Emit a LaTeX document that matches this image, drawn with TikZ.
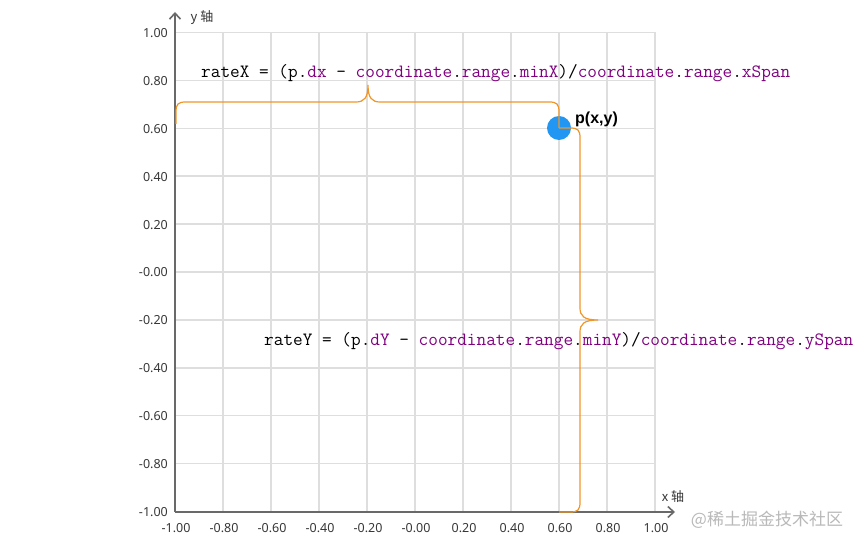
\documentclass[tikz,border=0pt]{standalone}
\usepackage{fontspec}
\setmainfont{Noto Sans}
\newfontfamily\cjkfont{Noto Sans CJK SC}
\newfontfamily\lblfont{Liberation Sans}
\usetikzlibrary{arrows.meta}
\definecolor{gridc}{RGB}{222,222,222}
\definecolor{axisc}{RGB}{105,105,105}
\definecolor{tickc}{RGB}{55,55,55}
\definecolor{pblue}{RGB}{33,150,243}
\definecolor{bracec}{RGB}{240,150,40}
\definecolor{codep}{RGB}{128,0,128}
\definecolor{wmc}{RGB}{185,185,185}
\newcommand\pu[1]{\textcolor{codep}{#1}}
\tikzset{
  gridline/.style={draw=gridc, line width=1.4pt},
  axisline/.style={draw=axisc, line width=1.8pt, -{Straight Barb[length=6pt,width=11pt,line width=1.6pt]}},
  xtick/.style={font=\fontsize{12.5}{14}\selectfont, text=tickc, inner sep=0pt},
  ytick/.style={font=\fontsize{12.5}{14}\selectfont, text=tickc, inner sep=0pt, anchor=east},
  axlabel/.style={font=\cjkfont\fontsize{13}{15}\selectfont, text=tickc, inner sep=0pt},
  code/.style={font=\ttfamily\addfontfeature{FakeBold=0.6}\fontsize{18.75}{20}\selectfont, inner sep=0pt, anchor=west},
  bracel/.style={draw=bracec, line width=1.2pt},
}
\begin{document}
\begin{tikzpicture}[x=1pt,y=-1pt]
\useasboundingbox[fill=white] (0,0) rectangle (865,548);
% grid
\foreach \k in {1,...,10} \draw[gridline] ({175+48*\k},32.5) -- ({175+48*\k},511.5);
\foreach \k in {0,...,9} \draw[gridline] (175,{32.5+47.9*\k}) -- (655,{32.5+47.9*\k});
% axes
\coordinate (o) at (175,512);
\coordinate (ytop) at (175,12);
\coordinate (xend) at (675,512);
\draw[axisline] (o) -- (ytop);
\draw[axisline] (o) -- (xend);
\node[axlabel] (ylab) at (202,18) {y 轴};
\node[axlabel] (xlab) at (673,497) {x 轴};
% tick labels
\foreach \k/\t in {0/-1.00,1/-0.80,2/-0.60,3/-0.40,4/-0.20,5/-0.00,6/0.20,7/0.40,8/0.60,9/0.80,10/1.00}
  \node[xtick] (xt\k) at ({176+48*\k},528) {\t};
\foreach \k/\t in {0/1.00,1/0.80,2/0.60,3/0.40,4/0.20,5/-0.00,6/-0.20,7/-0.40,8/-0.60,9/-0.80,10/-1.00}
  \node[ytick] (yt\k) at (168,{33+47.9*\k}) {\t};
% formulas
\node[code] (rx) at (201,73) {rateX = (p.\pu{dx} - \pu{coordinate}.\pu{range}.\pu{minX})/\pu{coordinate}.\pu{range}.\pu{xSpan}};
\node[code] (ry) at (264,341) {rateY = (p.\pu{dY} - \pu{coordinate}.\pu{range}.\pu{minY})/\pu{coordinate}.\pu{range}.\pu{ySpan}};
% point
\node[circle, fill=pblue, minimum size=24pt, inner sep=0pt] (p) at (559,128) {};
\node[font=\lblfont\bfseries\fontsize{16}{18}\selectfont, anchor=west, inner sep=0pt] (plab) at (575,119) {p(x,y)};
% braces
\coordinate (bl) at (176,124);
\coordinate (br) at (559,512);
\draw[bracel] (bl) -- (176,112) .. controls (176,104) and (178,102) .. (186,102)
  -- (356,102) .. controls (364,102) and (368,98) .. (368,85)
  .. controls (368,98) and (372,102) .. (380,102)
  -- (549,102) .. controls (557,102) and (559,104) .. (559,112) -- (p.center);
\draw[bracel] (p.center) -- (570,128) .. controls (578,128) and (580,130) .. (580,138)
  -- (580,308) .. controls (580,316) and (584,320) .. (598,320)
  .. controls (584,320) and (580,324) .. (580,332)
  -- (580,502) .. controls (580,510) and (578,512) .. (570,512) -- (br);
% watermark
\node[font=\cjkfont\fontsize{17}{20}\selectfont, text=wmc, inner sep=0pt] (wm) at (767,520) {@稀土掘金技术社区};
\end{tikzpicture}
\end{document}
